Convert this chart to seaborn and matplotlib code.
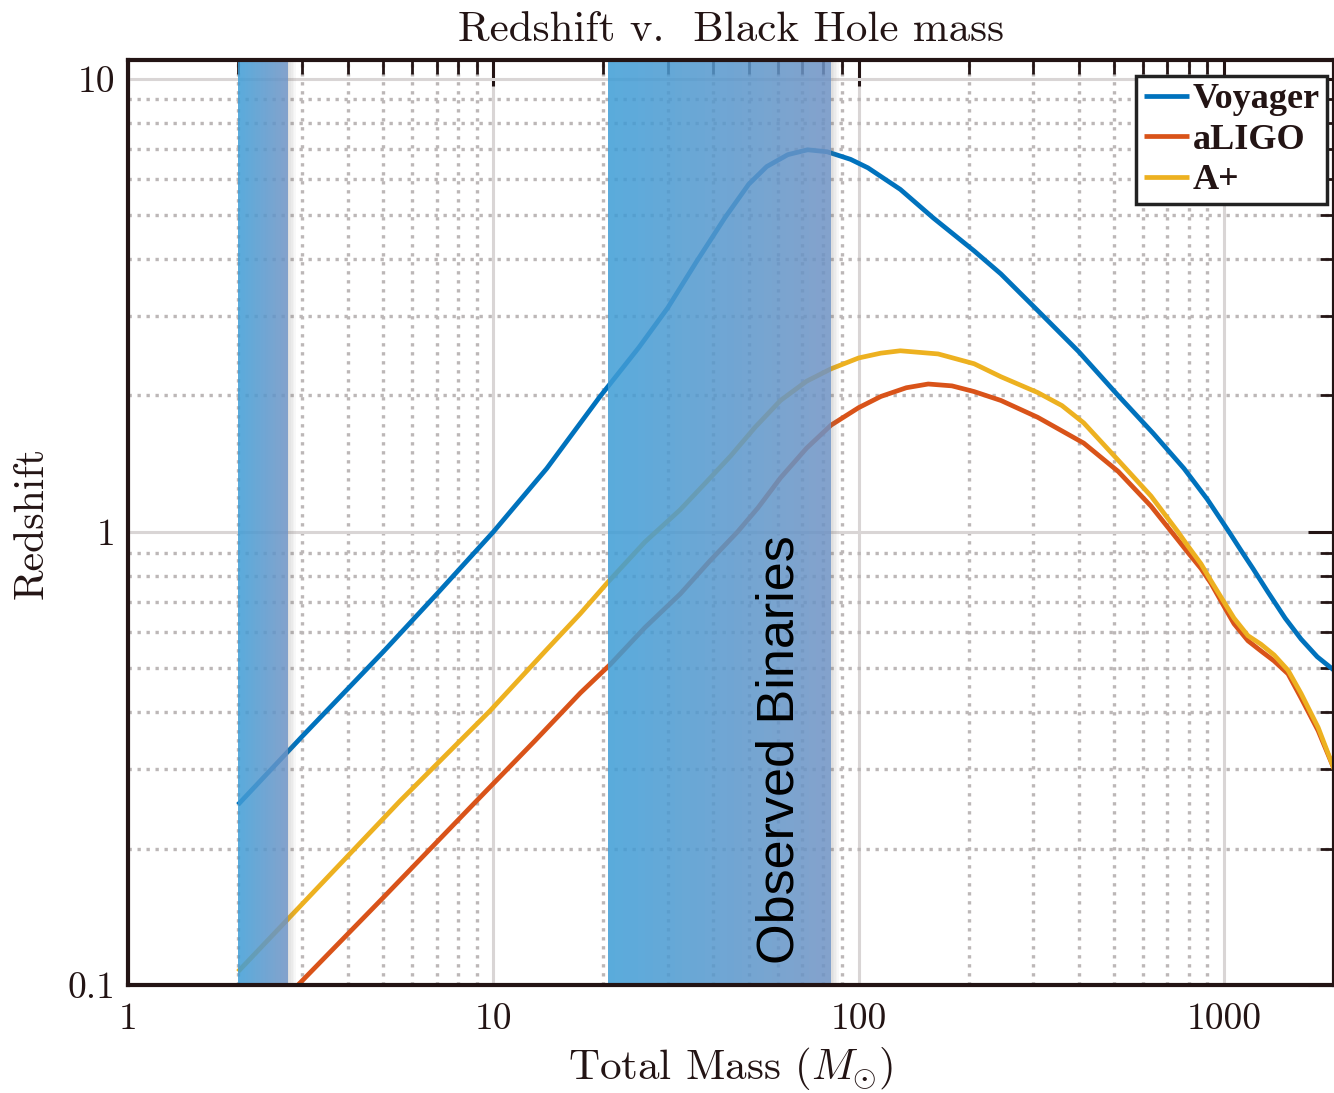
import numpy as np
import pandas as pd
import matplotlib
matplotlib.use("Agg")
import matplotlib.pyplot as plt
from matplotlib import ticker
from matplotlib.colors import to_rgb
import seaborn as sns

# ---------------- data ----------------
mass_voyager = [2.0, 3.0, 5.0, 7.0, 10.0, 14.0, 19.5, 25.0, 30.0, 36.0, 43.0, 50.0,
                56.0, 64.0, 72.5, 82.0, 95.0, 106.0, 130.0, 160.0, 207.0, 245.0,
                309.0, 400.0, 513.0, 640.0, 777.0, 900.0, 1032.0, 1113.0, 1200.0,
                1321.0, 1470.0, 1625.0, 1800.0, 2000.0]
z_voyager = [0.25, 0.354, 0.544, 0.729, 1.0, 1.38, 1.98, 2.55, 3.12, 3.95, 4.93, 5.85,
             6.40, 6.80, 6.97, 6.90, 6.64, 6.36, 5.70, 4.93, 4.17, 3.71,
             3.08, 2.50, 2.00, 1.65, 1.38, 1.18, 1.0, 0.91, 0.83,
             0.735, 0.645, 0.58, 0.53, 0.495]

mass_aligo = [2.0, 2.92, 5.0, 9.0, 13.0, 17.3, 20.9, 26.0, 32.5, 39.0, 46.6, 53.0,
              61.1, 72.0, 84.0, 100.0, 115.0, 135.0, 155.0, 180.0, 207.0, 245.0,
              309.0, 413.0, 513.0, 631.0, 748.0, 797.0, 865.0, 921.0, 1000.0,
              1065.0, 1163.0, 1262.0, 1371.0, 1497.0, 1625.0, 1810.0, 2000.0]
z_aligo = [0.073, 0.1, 0.156, 0.255, 0.346, 0.441, 0.51, 0.615, 0.73, 0.86, 1.0, 1.13,
           1.316, 1.53, 1.72, 1.88, 1.99, 2.08, 2.12, 2.10, 2.04, 1.95,
           1.79, 1.57, 1.36, 1.14, 0.96, 0.90, 0.83, 0.77, 0.685,
           0.627, 0.575, 0.546, 0.519, 0.486, 0.430, 0.364, 0.30]

mass_aplus = [2.0, 3.0, 5.56, 9.8, 14.0, 17.3, 20.6, 26.0, 32.5, 38.0, 44.6, 52.0,
              61.1, 72.0, 84.0, 100.0, 115.0, 130.0, 165.0, 207.0, 245.0, 309.0,
              360.0, 413.0, 513.0, 631.0, 748.0, 797.0, 865.0, 921.0, 1000.0, 1065.0,
              1163.0, 1262.0, 1371.0, 1497.0, 1625.0, 1810.0, 2000.0]
z_aplus = [0.107, 0.151, 0.255, 0.403, 0.55, 0.66, 0.775, 0.95, 1.12, 1.28, 1.47, 1.70,
           1.95, 2.15, 2.29, 2.42, 2.48, 2.51, 2.47, 2.35, 2.20, 2.03,
           1.90, 1.74, 1.44, 1.20, 1.0, 0.93, 0.85, 0.78, 0.70, 0.645,
           0.59, 0.565, 0.535, 0.495, 0.44, 0.37, 0.30]

detectors = ["Voyager", "aLIGO", "A+"]
colors = ["#0072BD", "#D95319", "#EDB120"]

band_lo = [2.0, 20.6]
band_hi = [2.74, 84.0]

xticks = [1, 10, 100, 1000]
yticks = [0.1, 1, 10]

# ---------------- style ----------------
sns.set_theme(style="white")
ink = "#231414"
plt.rcParams.update({
    "font.family": ["cmr10", "DejaVu Serif"],
    "mathtext.fontset": "cm",
    "axes.formatter.use_mathtext": True,
    "text.color": ink,
    "axes.labelcolor": ink,
    "xtick.color": ink,
    "ytick.color": ink,
    "axes.edgecolor": ink,
})

df = pd.concat([
    pd.DataFrame({"Mass": mass_voyager, "Redshift": z_voyager, "Detector": "Voyager"}),
    pd.DataFrame({"Mass": mass_aligo, "Redshift": z_aligo, "Detector": "aLIGO"}),
    pd.DataFrame({"Mass": mass_aplus, "Redshift": z_aplus, "Detector": "A+"}),
], ignore_index=True)

W, H = 1334, 1093
fig = plt.figure(figsize=(W / 100, H / 100), dpi=100)
ax = fig.add_axes([128 / W, 1 - 985 / H, (1334 - 128) / W, 925 / H])
ax.set_xscale("log")
ax.set_yscale("log")

sns.lineplot(data=df, x="Mass", y="Redshift", hue="Detector", hue_order=detectors,
             palette=colors, linewidth=3.4, estimator=None, sort=False,
             legend=False, ax=ax)
for ln in ax.get_lines():
    ln.set_solid_capstyle("butt")
    ln.set_solid_joinstyle("round")
    ln.set_zorder(2)

ax.set_xlim(1, 2000)
ax.set_ylim(0.1, 11)

# shaded bands with a horizontal colour gradient
c_left = np.array(to_rgb("#3f9dd6"))
c_right = np.array(to_rgb("#6f93c4"))
nseg = 30
for lo, hi in zip(band_lo, band_hi):
    edges = np.logspace(np.log10(lo), np.log10(hi), nseg + 1)
    for i in range(nseg):
        t = i / (nseg - 1)
        ax.axvspan(edges[i], edges[i + 1], color=c_left * (1 - t) + c_right * t,
                   alpha=0.86, lw=0, zorder=3)
    # soft shadow on the right edge
    sh = np.logspace(np.log10(hi), np.log10(hi * 1.05), 6)
    for i in range(5):
        ax.axvspan(sh[i], sh[i + 1], color="#707070", alpha=0.22 * (1 - i / 5),
                   lw=0, zorder=3)

ax.text(60.8, 0.33, "Observed Binaries", rotation=90, ha="center", va="center",
        fontsize=37.5, family=["Liberation Sans", "DejaVu Sans"], color="black",
        zorder=6)

# axes, ticks, grid (MATLAB-like)
ax.xaxis.set_major_locator(ticker.FixedLocator(xticks))
ax.yaxis.set_major_locator(ticker.FixedLocator(yticks))
ax.xaxis.set_minor_locator(ticker.LogLocator(base=10, subs=np.arange(2, 10)))
ax.yaxis.set_minor_locator(ticker.LogLocator(base=10, subs=np.arange(2, 10)))
fmt = ticker.FuncFormatter(lambda v, p: f"{v:g}")
ax.xaxis.set_major_formatter(fmt)
ax.yaxis.set_major_formatter(fmt)
ax.xaxis.set_minor_formatter(ticker.NullFormatter())
ax.yaxis.set_minor_formatter(ticker.NullFormatter())

ax.tick_params(which="both", direction="in", top=True, right=True, labelsize=27)
ax.tick_params(which="major", length=18.5, width=2.2)
ax.tick_params(which="minor", length=10, width=2.0)
ax.tick_params(axis="x", which="major", pad=13)
ax.tick_params(axis="y", which="major", pad=9)

ax.set_axisbelow(True)
ax.grid(which="major", color="#d9d5d5", lw=2.2, ls="-", zorder=0)
ax.grid(which="minor", color="#bcb7b7", lw=2.4, ls=(0, (1, 1.7)), zorder=0)

for s in ax.spines.values():
    s.set_linewidth(3)
    s.set_color(ink)
    s.set_zorder(5)

ax.set_title("Redshift v.  Black Hole mass", fontsize=31, pad=14)
ax.set_xlabel(r"Total Mass ($M_{\odot}$)", fontsize=31, labelpad=6)
ax.set_ylabel("Redshift", fontsize=30, labelpad=12)

leg = ax.legend(handles=ax.get_lines()[:3], labels=detectors, loc="upper right",
                bbox_to_anchor=(0.994, 0.983), borderaxespad=0,
                prop=dict(family="Liberation Serif", weight="bold", size=26),
                handlelength=1.25, handletextpad=0.1, labelspacing=0.2,
                borderpad=0.2, fancybox=False, framealpha=1)
leg.get_frame().set_edgecolor("#222222")
leg.get_frame().set_linewidth(2.5)
leg.set_zorder(7)

fig.savefig("out.png", dpi=100)
